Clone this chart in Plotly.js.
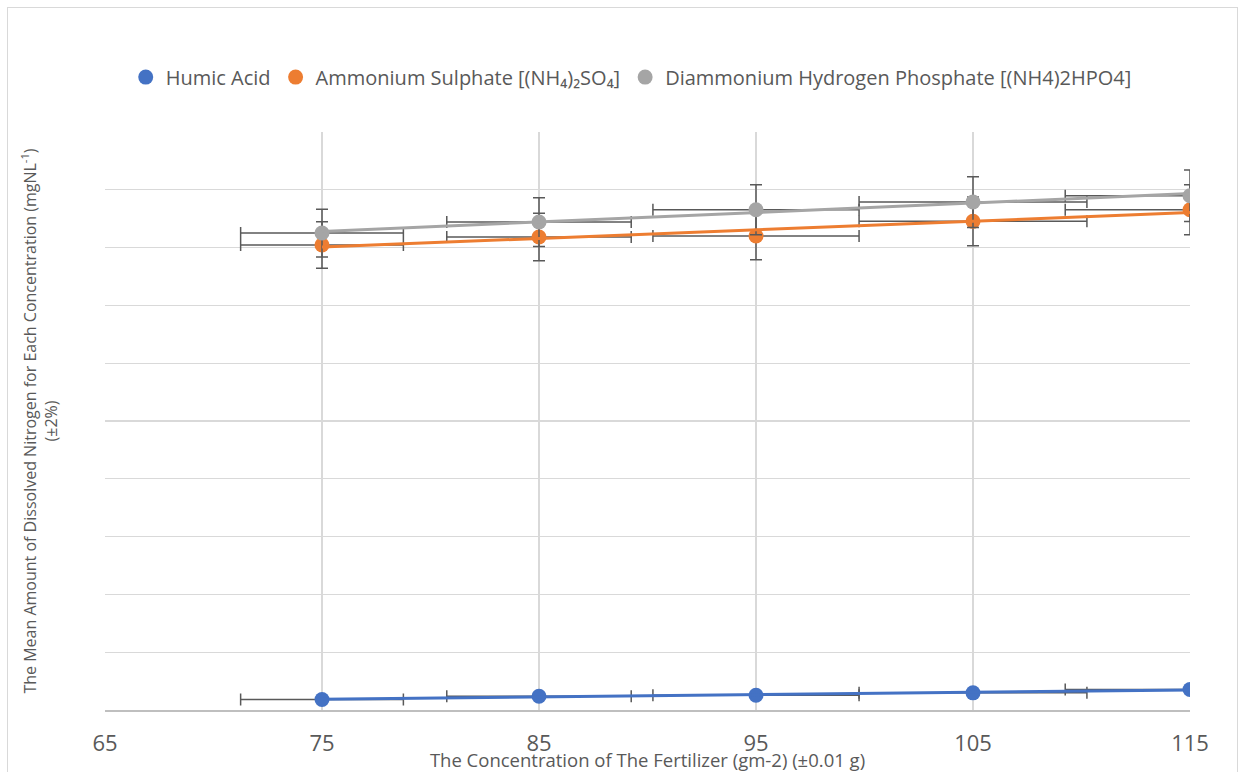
<!DOCTYPE html>
<html>
<head>
<meta charset="utf-8">
<script src="https://cdn.plot.ly/plotly-3.0.1.min.js"></script>
<style>
  html, body { margin: 0; padding: 0; background: #ffffff; overflow: hidden; }
  #chart { width: 1245px; height: 772px; }
  #frame { position: absolute; left: 7px; top: 7px; width: 1229px; height: 780px; border: 1px solid #D9D9D9; pointer-events: none; }
</style>
</head>
<body>
<div id="chart"></div>
<div id="frame"></div>
<script>
// Data
const concentrations = [75, 85, 95, 105, 115];
const humicAcid = [1.81, 2.38, 2.56, 2.97, 3.54];
const ammoniumSulphate = [80.45, 81.83, 82.0, 84.54, 86.56];
const diammoniumPhosphate = [82.52, 84.42, 86.56, 87.88, 88.98];
const seriesNames = [
  'Humic Acid',
  'Ammonium Sulphate [(NH\u2084)\u2082SO\u2084]',
  'Diammonium Hydrogen Phosphate [(NH4)2HPO4]'
];
const seriesColors = ['#4472C4', '#ED7D31', '#A5A5A5'];
const errorPercent = 5;
const xTickValues = [65, 75, 85, 95, 105, 115];

const FONT = '"Open Sans", "Noto Sans", sans-serif';
const TEXT = '#595959';

function errBar() {
  return { type: 'percent', value: errorPercent, visible: true, color: '#595959', thickness: 1.5, width: 6 };
}

// Linear least-squares trendline through a series (as in the reference)
function linearFit(xs, ys) {
  const n = xs.length;
  const mx = xs.reduce((a, b) => a + b, 0) / n;
  const my = ys.reduce((a, b) => a + b, 0) / n;
  let sxy = 0, sxx = 0;
  for (let i = 0; i < n; i++) { sxy += (xs[i] - mx) * (ys[i] - my); sxx += (xs[i] - mx) ** 2; }
  const slope = sxy / sxx;
  const xmin = Math.min(...xs), xmax = Math.max(...xs);
  return { x: [xmin, xmax], y: [my + slope * (xmin - mx), my + slope * (xmax - mx)] };
}

const ys = [humicAcid, ammoniumSulphate, diammoniumPhosphate];

const pointTraces = ys.map((y, i) => ({
  type: 'scatter',
  mode: 'markers',
  name: seriesNames[i],
  x: concentrations,
  y: y,
  marker: { color: seriesColors[i], size: 15 },
  error_x: errBar(),
  error_y: errBar()
}));

const trendTraces = ys.map((y, i) => {
  const f = linearFit(concentrations, y);
  return {
    type: 'scatter', mode: 'lines', showlegend: false, hoverinfo: 'skip',
    x: f.x, y: f.y,
    line: { color: seriesColors[i], width: 3 }
  };
});

const layout = {
  width: 1245,
  height: 772,
  paper_bgcolor: '#ffffff',
  plot_bgcolor: '#ffffff',
  margin: { l: 105, r: 55, t: 132, b: 62 },
  font: { family: FONT, color: TEXT },
  showlegend: true,
  legend: {
    orientation: 'h',
    x: 0.485, xanchor: 'center',
    y: 1.095, yanchor: 'middle',
    font: { family: FONT, size: 20, color: TEXT },
    itemwidth: 30,
    traceorder: 'normal'
  },
  xaxis: {
    range: [65, 115],
    tickvals: xTickValues,
    ticktext: xTickValues.map(String),
    ticks: '',
    ticklabelstandoff: 13,
    tickfont: { family: FONT, size: 22, color: TEXT },
    showgrid: true,
    gridcolor: '#D9D9D9',
    gridwidth: 1.3,
    showline: true,
    linecolor: '#BFBFBF',
    linewidth: 1.5,
    zeroline: false,
    title: {
      text: 'The Concentration of The Fertilizer (gm-2) (\u00b10.01 g)',
      font: { family: FONT, size: 18.5, color: TEXT },
      standoff: 0
    }
  },
  yaxis: {
    range: [0, 100],
    dtick: 10,
    showticklabels: false,
    ticks: '',
    showgrid: true,
    gridcolor: '#D9D9D9',
    gridwidth: 1.3,
    zeroline: false,
    showline: false,
    title: {
      text: 'The Mean Amount of Dissolved Nitrogen for Each Concentration (mgNL<sup>-1</sup>)<br>(\u00b12%)',
      font: { family: FONT, size: 16, color: TEXT },
      standoff: 42
    }
  }
};

Plotly.newPlot('chart', pointTraces.concat(trendTraces), layout, { displayModeBar: false, staticPlot: true });
</script>
</body>
</html>
